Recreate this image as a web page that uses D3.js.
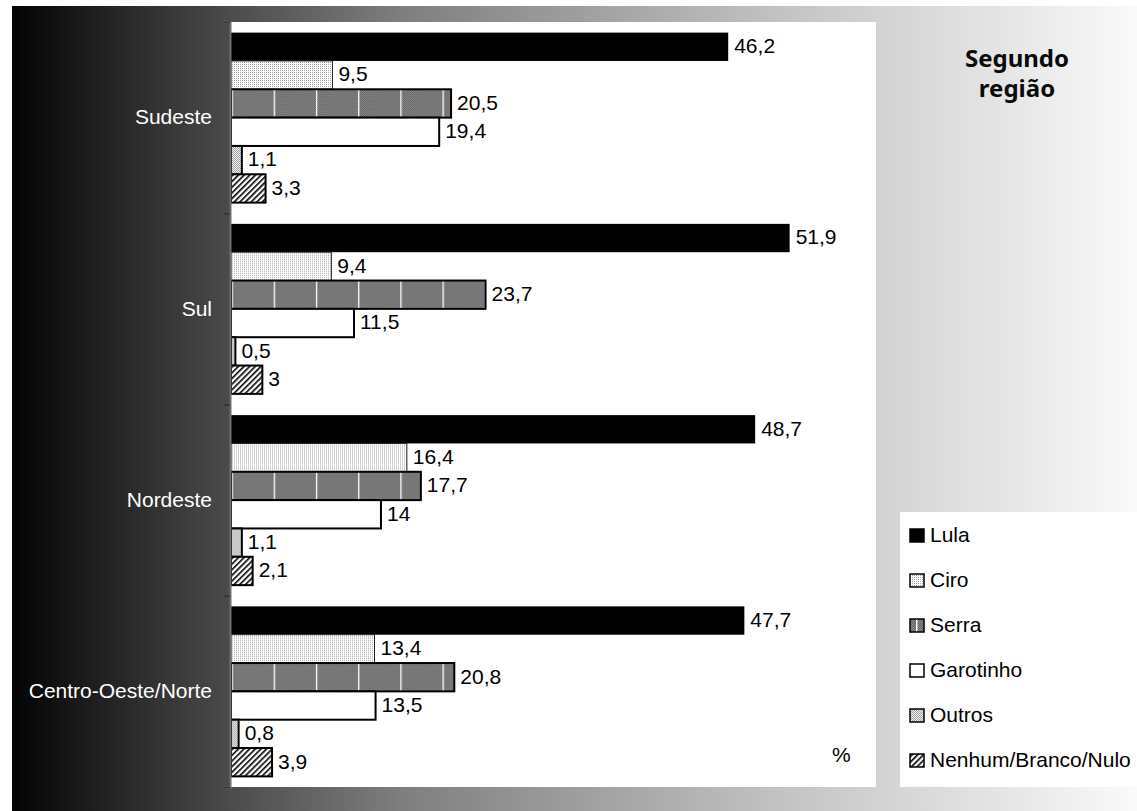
<!DOCTYPE html>
<html>
<head>
<meta charset="utf-8">
<script src="https://cdn.jsdelivr.net/npm/d3@7"></script>
<style>
  html, body { margin: 0; padding: 0; background: #ffffff; }
  svg { display: block; }
  text { font-family: "Liberation Sans", Arial, sans-serif; }
</style>
</head>
<body>
<svg id="chart" width="1137" height="811"></svg>
<script>
// ---- data ----
const categories = ["Sudeste", "Sul", "Nordeste", "Centro-Oeste/Norte"];
const seriesNames = ["Lula", "Ciro", "Serra", "Garotinho", "Outros", "Nenhum/Branco/Nulo"];
const lula      = [46.2, 51.9, 48.7, 47.7];
const ciro      = [9.5, 9.4, 16.4, 13.4];
const serra     = [20.5, 23.7, 17.7, 20.8];
const garotinho = [19.4, 11.5, 14, 13.5];
const outros    = [1.1, 0.5, 1.1, 0.8];
const nenhum    = [3.3, 3, 2.1, 3.9];
const titleLines = ["Segundo", "região"];
const unitLabel = "%";

const seriesValues = [lula, ciro, serra, garotinho, outros, nenhum];

// ---- layout ----
const svg = d3.select("#chart");
const W = 1137, H = 811;
const plot = { left: 230, right: 876, top: 22, bottom: 787 };

const defs = svg.append("defs");

// background gradient
const grad = defs.append("linearGradient").attr("id", "bgGrad")
  .attr("x1", "0%").attr("x2", "100%").attr("y1", "0%").attr("y2", "0%");
[[0, "#030303"], [0.19, "#4a4a4a"], [0.345, "#7e7e7e"], [0.70, "#c6c6c6"], [1, "#fafafa"]]
  .forEach(([o, c]) => grad.append("stop").attr("offset", o).attr("stop-color", c));

// patterns
const pCiro = defs.append("pattern").attr("id", "pCiro").attr("patternUnits", "userSpaceOnUse")
  .attr("width", 2).attr("height", 2);
pCiro.append("rect").attr("width", 2).attr("height", 2).attr("fill", "#ffffff");
pCiro.append("rect").attr("width", 1).attr("height", 1).attr("fill", "#a5a5a5");

const pChk = defs.append("pattern").attr("id", "pChk").attr("patternUnits", "userSpaceOnUse")
  .attr("width", 2).attr("height", 2);
pChk.append("rect").attr("width", 2).attr("height", 2).attr("fill", "#8a8a8a");
pChk.append("rect").attr("width", 1).attr("height", 1).attr("fill", "#646464");
pChk.append("rect").attr("x", 1).attr("y", 1).attr("width", 1).attr("height", 1).attr("fill", "#646464");

const pSerra = defs.append("pattern").attr("id", "pSerra").attr("patternUnits", "userSpaceOnUse")
  .attr("x", 231.5).attr("width", 42.2).attr("height", 811);
pSerra.append("rect").attr("width", 42.2).attr("height", 811).attr("fill", "url(#pChk)");
pSerra.append("rect").attr("x", 0).attr("width", 1.3).attr("height", 811).attr("fill", "#ffffff");

const pSerraLeg = defs.append("pattern").attr("id", "pSerraLeg").attr("patternUnits", "objectBoundingBox")
  .attr("width", 1).attr("height", 1);
pSerraLeg.append("rect").attr("width", 14).attr("height", 14).attr("fill", "url(#pChk)");
pSerraLeg.append("rect").attr("x", 6).attr("width", 1.5).attr("height", 14).attr("fill", "#ffffff");

const pOutros = defs.append("pattern").attr("id", "pOutros").attr("patternUnits", "userSpaceOnUse")
  .attr("width", 2).attr("height", 2);
pOutros.append("rect").attr("width", 2).attr("height", 2).attr("fill", "#f2f2f2");
pOutros.append("rect").attr("width", 1).attr("height", 1).attr("fill", "#a0a0a0");
pOutros.append("rect").attr("x", 1).attr("y", 1).attr("width", 1).attr("height", 1).attr("fill", "#a0a0a0");

const pHatch = defs.append("pattern").attr("id", "pHatch").attr("patternUnits", "userSpaceOnUse")
  .attr("width", 4).attr("height", 4).attr("patternTransform", "rotate(45)");
pHatch.append("rect").attr("width", 4).attr("height", 4).attr("fill", "#ffffff");
pHatch.append("rect").attr("width", 1.6).attr("height", 4).attr("fill", "#000000");

const styles = [
  { fill: "#000000", stroke: "none", sw: 0, legFill: "#000000", legStroke: "#000000" },
  { fill: "url(#pCiro)", stroke: "#222", sw: 1, legFill: "url(#pCiro)", legStroke: "#000" },
  { fill: "url(#pSerra)", stroke: "#000", sw: 2, legFill: "url(#pSerraLeg)", legStroke: "#000" },
  { fill: "#ffffff", stroke: "#000", sw: 2, legFill: "#ffffff", legStroke: "#000" },
  { fill: "url(#pOutros)", stroke: "#000", sw: 2, legFill: "url(#pOutros)", legStroke: "#000" },
  { fill: "url(#pHatch)", stroke: "#000", sw: 2, legFill: "url(#pHatch)", legStroke: "#000" }
];

// background
svg.append("rect").attr("x", 12).attr("y", 6).attr("width", W - 12).attr("height", H - 6)
  .attr("fill", "url(#bgGrad)");

// plot area
svg.append("rect").attr("x", plot.left).attr("y", plot.top)
  .attr("width", plot.right - plot.left).attr("height", plot.bottom - plot.top)
  .attr("fill", "#ffffff");

// scales
const x = d3.scaleLinear().domain([0, 60]).range([plot.left, plot.right + 1]);
const y = d3.scaleBand().domain(categories).range([plot.top, plot.bottom]).paddingInner(0).paddingOuter(0);
const ySub = d3.scaleBand().domain(seriesNames).range([0, y.bandwidth()]).paddingInner(0).paddingOuter(0.375);

const fmt = v => String(v).replace(".", ",");

// bars
const groups = svg.append("g").selectAll("g.cat").data(categories).join("g")
  .attr("class", "cat").attr("transform", c => `translate(0,${y(c)})`);

seriesNames.forEach((s, si) => {
  const st = styles[si];
  groups.append("rect")
    .attr("x", x(0) + (st.sw ? 1 : 0))
    .attr("y", (c) => ySub(s))
    .attr("width", (c, i) => x(seriesValues[si][i]) - x(0) - (st.sw ? 1 : 0))
    .attr("height", ySub.bandwidth())
    .attr("fill", st.fill)
    .attr("stroke", st.stroke)
    .attr("stroke-width", st.sw);
  groups.append("text")
    .attr("x", (c, i) => x(seriesValues[si][i]) + 6)
    .attr("y", ySub(s) + ySub.bandwidth() / 2)
    .attr("dy", "0.3em")
    .attr("font-size", 21)
    .attr("fill", "#000")
    .text((c, i) => fmt(seriesValues[si][i]));
});

// y axis: category labels
const yAxis = svg.append("g").attr("transform", `translate(${plot.left},0)`)
  .call(d3.axisLeft(y).tickSize(0).tickPadding(18));
yAxis.select(".domain").remove();
yAxis.selectAll("text").attr("fill", "#ffffff").attr("font-size", 21)
  .style("font-family", '"Liberation Sans", Arial, sans-serif');

// y axis line and boundary ticks
const yb = d3.scaleLinear().domain([0, categories.length]).range([plot.top, plot.bottom]);
const yTicks = svg.append("g").attr("transform", `translate(${plot.left},0)`)
  .call(d3.axisLeft(yb).ticks(categories.length).tickFormat("").tickSize(6).tickSizeOuter(6));
yTicks.select(".domain").attr("stroke", "#6e6e6e").attr("stroke-width", 2);
yTicks.selectAll(".tick line").attr("stroke", "#333").attr("stroke-width", 1.5);

// unit label
svg.append("text").attr("x", 832).attr("y", 762).attr("font-size", 21).attr("fill", "#000").text(unitLabel);

// title (two separate lines)
svg.append("g").selectAll("text").data(titleLines).join("text")
  .attr("x", 1017).attr("y", (t, i) => 67 + i * 30).attr("text-anchor", "middle")
  .style("font-family", '"Noto Sans", "Open Sans", sans-serif').attr("font-weight", "bold")
  .attr("font-size", 24).attr("fill", "#0a0a0a")
  .text(t => t);

// legend
svg.append("rect").attr("x", 900).attr("y", 512).attr("width", W - 900).attr("height", 787 - 512)
  .attr("fill", "#ffffff");
const leg = svg.append("g").selectAll("g").data(seriesNames).join("g")
  .attr("transform", (d, i) => `translate(910,${542 + i * 45})`);
leg.append("rect").attr("x", 0).attr("y", -13).attr("width", 14).attr("height", 13)
  .attr("fill", (d, i) => styles[i].legFill)
  .attr("stroke", (d, i) => styles[i].legStroke).attr("stroke-width", 1.5);
leg.append("text").attr("x", 20).attr("y", 0).attr("font-size", 21).attr("fill", "#000").text(d => d);
</script>
</body>
</html>
